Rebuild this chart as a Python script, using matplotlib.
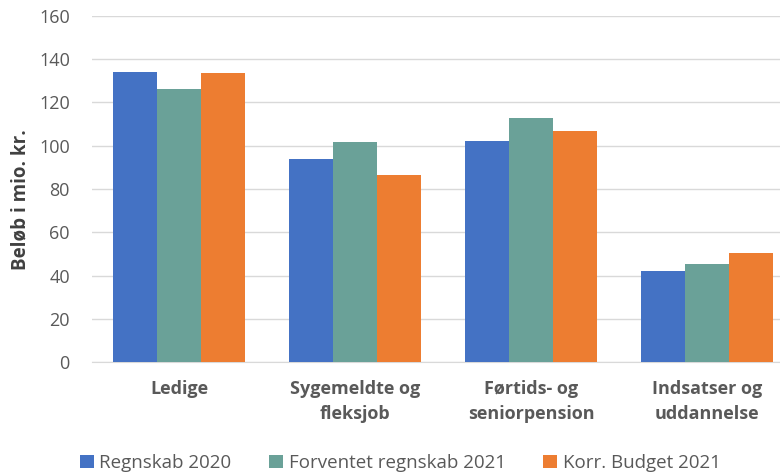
import matplotlib
matplotlib.use("Agg")
import matplotlib.pyplot as plt
import numpy as np

categories = ["Ledige", "Sygemeldte og\nfleksjob", "Førtids- og\nseniorpension", "Indsatser og\nuddannelse"]
series_names = ["Regnskab 2020", "Forventet regnskab 2021", "Korr. Budget 2021"]
regnskab_2020 = [134, 93.8, 102.2, 42.4]
forventet_2021 = [126, 101.5, 112.8, 45.2]
korr_budget_2021 = [133.5, 86.4, 107, 50.4]
colors = ["#4472C4", "#6AA198", "#ED7D31"]
yticks = [0, 20, 40, 60, 80, 100, 120, 140, 160]

plt.rcParams['font.family'] = ['Open Sans', 'DejaVu Sans']

fig = plt.figure(figsize=(7.8, 4.75), dpi=100)
ax = fig.add_axes([0.118, 0.237, 0.882, 0.73])

x = np.arange(len(categories))
w = 0.25
for i, (vals, name, c) in enumerate(zip([regnskab_2020, forventet_2021, korr_budget_2021], series_names, colors)):
    ax.bar(x + (i - 1) * w, vals, width=w, color=c, label=name, zorder=3)

ax.set_ylim(0, 160)
ax.set_xlim(-0.494, 3.415)
ax.set_yticks(yticks)
ax.set_yticklabels([str(t) for t in yticks], fontsize=13, color="#595959")
ax.set_xticks(x)
ax.set_xticklabels(categories, fontsize=13, color="#595959", fontweight="bold", linespacing=1.5)
ax.tick_params(axis='both', length=0)
ax.tick_params(axis='y', pad=16)
ax.tick_params(axis='x', pad=13)
ax.grid(axis='y', color="#D9D9D9", linewidth=1, zorder=0)
for s in ["top", "right", "left"]:
    ax.spines[s].set_visible(False)
ax.spines["bottom"].set_color("#D9D9D9")
ax.set_ylabel("Beløb i mio. kr.", fontsize=13.5, fontweight="bold", color="#404040")
ax.yaxis.set_label_coords(-0.09, 0.47)

handles, labels = ax.get_legend_handles_labels()
fig.legend(handles, labels, loc="center", bbox_to_anchor=(0.513, 1 - 463 / 475), ncol=3, frameon=False,
           fontsize=13.5, labelcolor="#595959", handlelength=0.75, handleheight=0.75,
           handletextpad=0.3, columnspacing=2.0)

fig.savefig("out.png", dpi=100)
